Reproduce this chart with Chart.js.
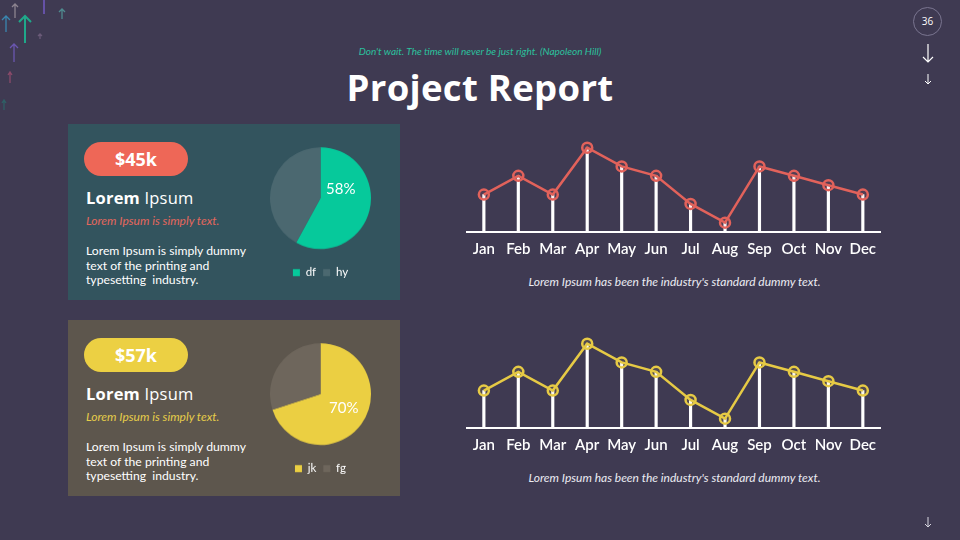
<!DOCTYPE html>
<html><head><meta charset="utf-8">
<script src="https://cdn.jsdelivr.net/npm/chart.js@4.4.1/dist/chart.umd.min.js"></script>
<style>
html,body{margin:0;padding:0;}
body{width:960px;height:540px;background:#3f3a52;position:relative;overflow:hidden;font-family:Lato,"Noto Sans",sans-serif;color:#fff;}
.abs{position:absolute;}
.card{position:absolute;left:68px;width:332px;height:176px;}
.pill{position:absolute;left:16px;top:18px;width:104px;height:34px;border-radius:17px;font-family:"Open Sans",sans-serif;font-weight:700;font-size:18px;line-height:34px;text-align:center;color:#fff;}
.ttl{position:absolute;left:18px;top:62px;font-family:"Open Sans",sans-serif;font-size:16.5px;color:#fff;letter-spacing:0.2px;}
.ttl b{font-weight:700;}
.sub{position:absolute;left:18px;top:89px;font-style:italic;font-size:12px;}
.body{position:absolute;left:18px;top:120px;font-size:12.2px;line-height:14.6px;color:#fff;width:172px;}
.pct{position:absolute;font-size:15px;color:#fff;}
.cap{position:absolute;left:465px;width:419px;text-align:center;font-style:italic;font-size:12px;color:#ececf2;}
.wrap{position:absolute;}
</style></head>
<body>
<svg class="abs" style="left:0;top:0" width="80" height="120">
 <g fill="none" stroke-width="1.3">
  <path d="M15 18 V4 M12 7 L15 4 L18 7" stroke="#8d8490"/>
  <path d="M44 14 V0" stroke="#6a55b0" stroke-width="1.8"/>
  <path d="M6 32 V16 M2 20 L6 16 L10 20" stroke="#3a86b0"/>
  <path d="M25 43 V16 M19 22 L25 16 L31 22" stroke="#1fa88a" stroke-width="2"/>
  <path d="M62 19 V9 M59 12 L62 9 L65 12" stroke="#4f8a8f"/>
  <path d="M40 39 V34 M38 36 L40 34 L42 36" stroke="#6a5a78"/>
  <path d="M14 62 V44 M10 48 L14 44 L18 48" stroke="#6a56b0"/>
  <path d="M10 83 V72 M8 75 L10 72 L12 75" stroke="#8a4a6a"/>
  <path d="M4 110 V100 M2 103 L4 100 L6 103" stroke="#2f5f66"/>
 </g>
</svg>
<div class="abs" style="left:913px;top:7px;width:29px;height:29px;border:1px solid #7a7590;border-radius:50%;box-sizing:border-box;text-align:center;line-height:27px;font-size:10px;color:#fff;font-family:'Open Sans',sans-serif;">36</div>
<svg class="abs" style="left:918px;top:40px" width="20" height="490">
 <g fill="none" stroke="#fff" stroke-width="1.2">
  <path d="M10 4 V22 M5 17 L10 22 L15 17"/>
  <path d="M10 34 V44 M7 41 L10 44 L13 41" stroke-width="1"/>
  <path d="M10 477 V487 M7 484 L10 487 L13 484" stroke-width="1" stroke="#d8d6e0"/>
 </g>
</svg>
<div class="abs" style="left:0;width:960px;top:45px;text-align:center;font-style:italic;font-size:10px;color:#2bc29e;">Don't wait. The time will never be just right. (Napoleon Hill)</div>
<div class="abs" style="left:0;width:960px;top:62px;text-align:center;font-family:'Open Sans',sans-serif;font-weight:700;font-size:36.5px;color:#fff;letter-spacing:0.3px;">Project Report</div>

<div class="card" style="top:124px;background:#33545e;">
 <div class="pill" style="background:#ee6757;">$45k</div>
 <div class="ttl"><b>Lorem</b> Ipsum</div>
 <div class="sub" style="color:#e4675d;">Lorem Ipsum is simply text.</div>
 <div class="body">Lorem Ipsum is simply dummy text of the printing and typesetting&nbsp; industry.</div>
</div>
<div class="card" style="top:320px;background:#5d564d;">
 <div class="pill" style="background:#ecd043;">$57k</div>
 <div class="ttl"><b>Lorem</b> Ipsum</div>
 <div class="sub" style="color:#e6cd4a;">Lorem Ipsum is simply text.</div>
 <div class="body">Lorem Ipsum is simply dummy text of the printing and typesetting&nbsp; industry.</div>
</div>

<div class="wrap" style="left:270px;top:147px;width:101px;height:140.5px;"><canvas id="pie1"></canvas></div>
<div class="wrap" style="left:270px;top:343px;width:101px;height:140.5px;"><canvas id="pie2"></canvas></div>
<div class="pct" id="pct1" style="left:326px;top:179px;"></div>
<div class="pct" id="pct2" style="left:329px;top:398px;"></div>

<div class="wrap" style="left:465px;top:129px;width:419px;height:137px;"><canvas id="line1"></canvas></div>
<div class="wrap" style="left:465px;top:324.5px;width:419px;height:137px;"><canvas id="line2"></canvas></div>
<div class="cap" style="top:274px;">Lorem Ipsum has been the industry's standard dummy text.</div>
<div class="cap" style="top:470px;">Lorem Ipsum has been the industry's standard dummy text.</div>

<script>
const months = ['Jan','Feb','Mar','Apr','May','Jun','Jul','Aug','Sep','Oct','Nov','Dec'];
const seriesTop = [4,6,4,9,7,6,3,1,7,6,5,4];
const seriesBottom = [4,6,4,9,7,6,3,1,7,6,5,4];
const pie1Labels = ['df','hy'];
const pie1Values = [58,42];
const pie2Labels = ['jk','fg'];
const pie2Values = [70,30];

Chart.defaults.animation = false;
Chart.defaults.font.family = 'Lato, "Noto Sans", sans-serif';

function lineChart(id, data, color, fill){
  new Chart(document.getElementById(id), {
    type:'bar',
    data:{labels:months, datasets:[
      {type:'line', data:data, order:0, borderColor:color, borderWidth:2.5, tension:0,
       pointRadius:5, pointBorderWidth:2.5, pointBorderColor:color, pointBackgroundColor:fill, clip:false},
      {type:'bar', data:data, order:1, backgroundColor:'#ffffff', barThickness:2.5}
    ]},
    options:{responsive:true, maintainAspectRatio:false,
      layout:{padding:0, autoPadding:false},
      plugins:{legend:{display:false}, tooltip:{enabled:false}},
      scales:{
        x:{offset:true, grid:{display:false, drawTicks:false}, border:{display:true, color:'#ffffff', width:2},
           ticks:{color:'#ffffff', padding:8, maxRotation:0, minRotation:0, autoSkip:false, font:{size:15, weight:'600'}}},
        y:{display:false, min:0, max:11}
      }}
  });
}
lineChart('line1', seriesTop, '#e2625b', 'rgba(226,98,91,0.12)');
lineChart('line2', seriesBottom, '#e6ca45', 'rgba(230,202,69,0.12)');

function pieChart(id, labels, values, colors){
  new Chart(document.getElementById(id), {
    type:'pie',
    data:{labels:labels, datasets:[{data:values, backgroundColor:colors, borderWidth:0}]},
    options:{responsive:true, maintainAspectRatio:false, layout:{padding:0},
      plugins:{tooltip:{enabled:false},
        legend:{position:'bottom',
          title:{display:true, text:'', padding:0, font:{size:8.75}},
          labels:{color:'#ffffff', boxWidth:7, boxHeight:7, padding:7, font:{size:11.5}}}}}
  });
}
pieChart('pie1', pie1Labels, pie1Values, ['#06c99b','#4b6870']);
pieChart('pie2', pie2Labels, pie2Values, ['#ebcf42','#6e665c']);
document.getElementById('pct1').textContent = pie1Values[0] + '%';
document.getElementById('pct2').textContent = pie2Values[0] + '%';
</script>
</body></html>
